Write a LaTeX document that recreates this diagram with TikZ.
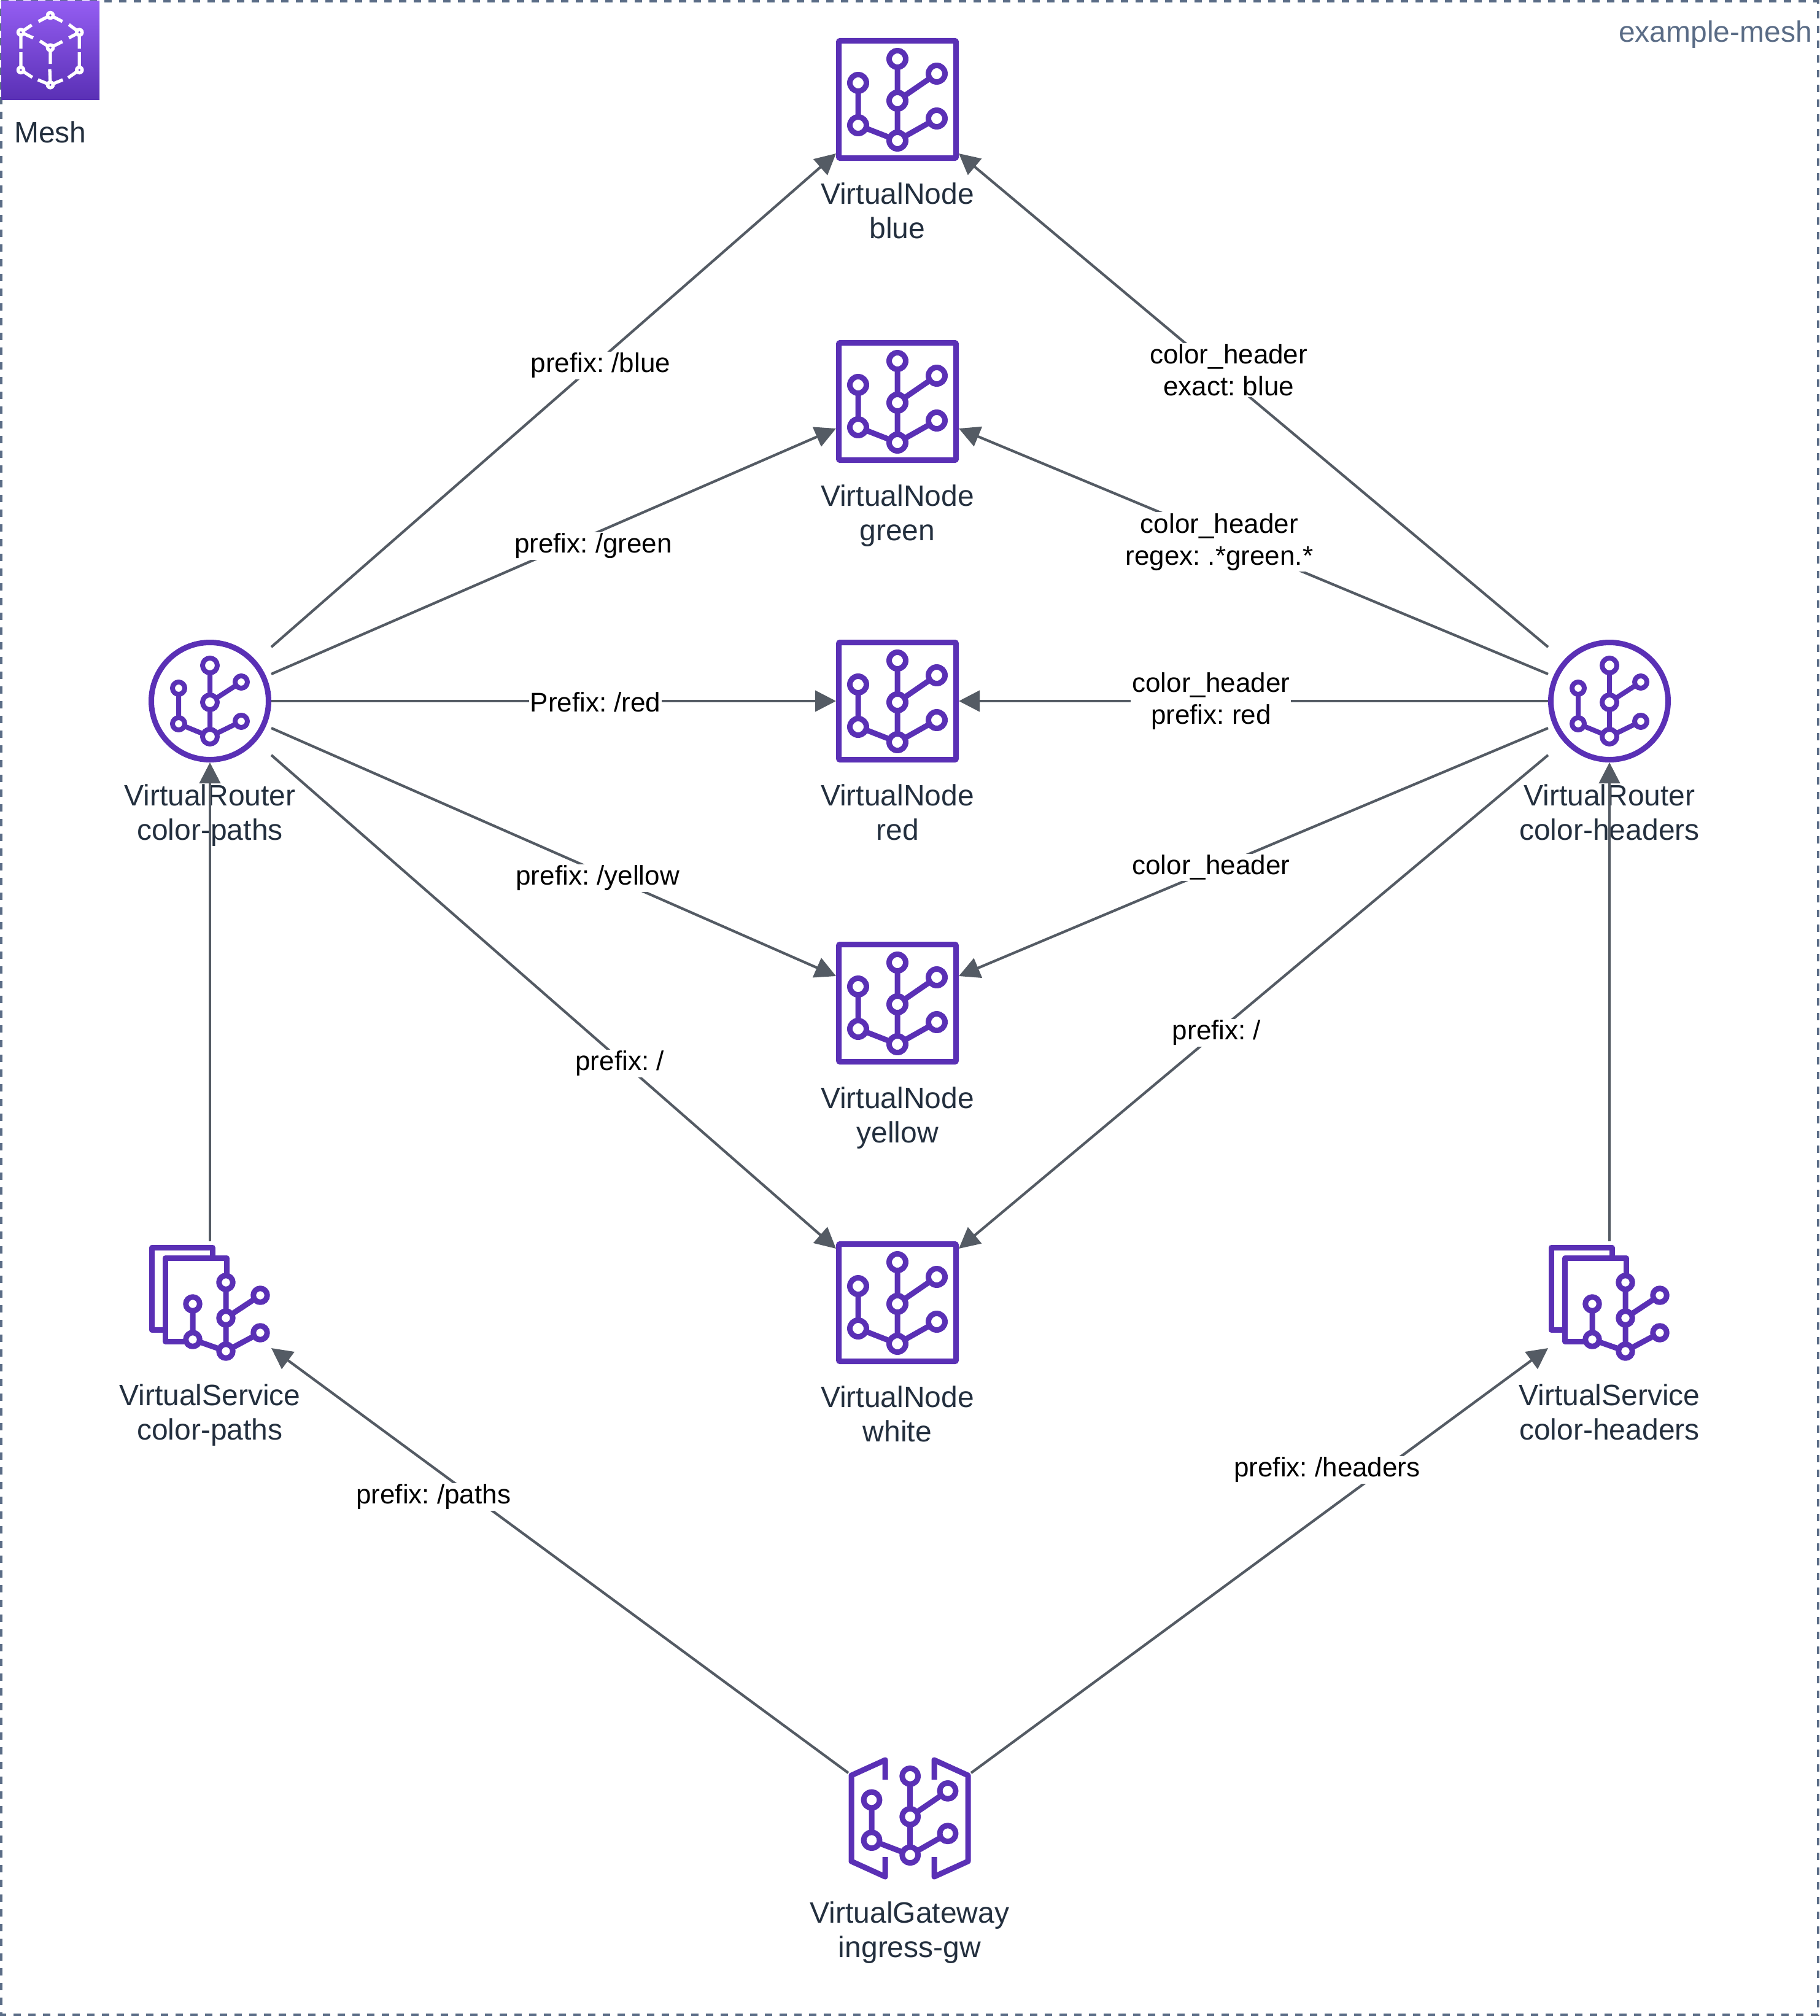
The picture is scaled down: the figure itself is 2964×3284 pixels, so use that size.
\documentclass[tikz,border=0pt]{standalone}
\usepackage{fontspec}
\setmainfont{Liberation Sans}
\frenchspacing
\usetikzlibrary{arrows.meta}

\definecolor{meshpurple}{HTML}{5A30B5}
\definecolor{meshlight}{HTML}{945DF2}
\definecolor{meshdot}{HTML}{7845D3}
\definecolor{meshgrey}{HTML}{545B64}
\definecolor{meshtext}{HTML}{232F3E}
\definecolor{meshborder}{HTML}{5A6C86}

% the tree that sits in every icon: needs coordinates t,m,b,lt,lb,rt,rb
\newcommand{\treebody}[3]{
    \draw [treeline, line width=#3] (t) -- (b) -- (lb) -- (lt) (m) -- (rt) (b) -- (rb);
    \foreach \c in {t,m,b} \draw [treeline, fill=white, line width=#3] (\c) circle (#1);
    \foreach \c in {lt,lb,rt,rb} \draw [treeline, fill=white, line width=#3] (\c) circle (#2);
}

\tikzset{
    treeline/.style = {draw=meshpurple, line join=round},
    cubeline/.style = {draw=white, line width=5.3pt},
    pics/nodetree/.style = {code = {
            \coordinate (t) at (0,-66); \coordinate (m) at (0,2); \coordinate (b) at (0,67);
            \coordinate (lt) at (-64,-27); \coordinate (lb) at (-64,42);
            \coordinate (rt) at (64,-42); \coordinate (rb) at (64,31);
            \treebody{13.5pt}{13.5pt}{9pt}
        }},
    pics/routertree/.style = {code = {
            \coordinate (t) at (0,-58); \coordinate (m) at (0,2); \coordinate (b) at (0,58);
            \coordinate (lt) at (-51,-21); \coordinate (lb) at (-51,37);
            \coordinate (rt) at (51,-31); \coordinate (rb) at (51,33);
            \treebody{12pt}{10pt}{8pt}
        }},
    pics/servicetree/.style = {code = {
            \draw [treeline, line width=9pt] (-72.5,44.7) -- (-95,44.7) -- (-95,-90) -- (4,-90) -- (4,-72.5);
            \draw [treeline, line width=9pt] (27,-33) -- (27,-72.5) -- (-72.5,-72.5) -- (-72.5,63) -- (-28,63);
            \coordinate (t) at (26,-33); \coordinate (m) at (26,25); \coordinate (b) at (26,79);
            \coordinate (lt) at (-28,2); \coordinate (lb) at (-28,60);
            \coordinate (rt) at (82,-12); \coordinate (rb) at (82,49);
            \treebody{11.3pt}{11.3pt}{9pt}
        }},
    pics/gatewaytree/.style = {code = {
            \draw [treeline, line width=9pt] (-40,-63) -- (-40,-95) -- (-95,-70) -- (-95,70) -- (-40,95) -- (-40,63);
            \draw [treeline, line width=9pt] (40,-63) -- (40,-95) -- (95,-70) -- (95,70) -- (40,95) -- (40,63);
            \coordinate (t) at (0.7,-68.7); \coordinate (m) at (0.7,-2.7); \coordinate (b) at (0.7,59.7);
            \coordinate (lt) at (-62,-30); \coordinate (lb) at (-62,35.7);
            \coordinate (rt) at (62,-44.7); \coordinate (rb) at (62,24.7);
            \treebody{13pt}{13pt}{9pt}
        }},
    pics/cube/.style = {code = {
            \draw [cubeline] (-19.3,-47) -- (0,-57) -- (19.7,-47);
            \draw [cubeline] (-30.3,-41.3) -- (-48,-29.3) -- (-28,-20.3) (-48,-29.3) -- (-48,-2.7);
            \draw [cubeline] (30.3,-42) -- (47.3,-29.3) -- (30.3,-20.3) (47.3,-29.3) -- (47.3,-2.7);
            \draw [cubeline] (-17,-15.3) -- (0,-4.3) -- (19.7,-14.3) (0,-4.3) -- (0,22);
            \draw [cubeline] (-48,3) -- (-48,32) -- (-29.3,44);
            \draw [cubeline] (47.3,3) -- (47.3,32) -- (29,44.7);
            \draw [cubeline] (-20.3,48) -- (0,56.3) -- (20.3,48) (0,56.3) -- (-1,30.7);
            \foreach \p in {(0,-57),(-48,-29.3),(47.3,-29.3),(0,-4.3),(-48,32),(47.3,32),(0,56.3)} {
                \fill [white] \p circle (7.3pt);
                \fill [meshdot] \p circle (1.8pt);
            }
        }}
}

\begin{document}
\begin{tikzpicture}[x=1pt, y=-1pt, node distance=490pt, label distance=36pt,
        % styles
        iconlabel/.style = {
                align=center, inner sep=0pt, text=meshtext,
                font=\fontsize{48}{56}\selectfont
            },
        vnode/.style = {
                rectangle, rounded corners=2pt, draw=meshpurple, line width=9pt,
                minimum size=191pt, inner sep=0pt
            },
        vrouter/.style = {
                circle, draw=meshpurple, line width=9pt,
                minimum size=191pt, inner sep=0pt
            },
        plainicon/.style = {
                rectangle, minimum size=200pt, inner sep=0pt, outer sep=0pt
            },
        arrow/.style = {
                draw=meshgrey, line width=4.2pt, -{Triangle[length=34pt,width=34pt]}
            },
        edgelabel/.style = {
                fill=white, align=center, inner sep=2pt, text=black,
                font=\fontsize{44}{52}\selectfont
            }]

    \useasboundingbox (0,0) rectangle (2964,3284);

    % mesh frame
    \draw [meshborder, line width=4.2pt, dash pattern=on 12pt off 12pt]
        (2,2) -- (2962,2) -- (2962,3282) -- (2,3282) -- cycle;
    \node (mesh_name) [anchor=east, inner sep=0pt, text=meshborder,
        font=\fontsize{48}{56}\selectfont] at (2952,56) {example-mesh};
    \node (mesh) [rectangle, minimum size=160pt, inner sep=0pt, outer sep=0pt,
        top color=meshlight, bottom color=meshpurple,
        label={[iconlabel]below:Mesh}] at (82,82) {};
    \pic at (mesh) {cube};

    % virtual nodes
    \node (node_blue) [vnode, label={[iconlabel]below:VirtualNode\\blue}] at (1462,162) {};
    \node (node_green) [vnode, below of=node_blue, yshift=-2pt, label={[iconlabel]below:VirtualNode\\green}] {};
    \node (node_red) [vnode, below of=node_green, yshift=2pt, label={[iconlabel]below:VirtualNode\\red}] {};
    \node (node_yellow) [vnode, below of=node_red, yshift=-2pt, label={[iconlabel]below:VirtualNode\\yellow}] {};
    \node (node_white) [vnode, below of=node_yellow, yshift=2pt, label={[iconlabel, yshift=1pt]below:VirtualNode\\white}] {};
    \foreach \n in {blue,green,red,yellow,white} \pic at (node_\n) {nodetree};

    % routers, services, gateway
    \node (router_paths) [vrouter, left of=node_red, node distance=1120pt,
        label={[iconlabel]below:VirtualRouter\\color-paths}] {};
    \node (router_headers) [vrouter, right of=node_red, node distance=1160pt,
        label={[iconlabel]below:VirtualRouter\\color-headers}] {};
    \node (service_paths) [plainicon, below of=router_paths, node distance=980pt,
        label={[iconlabel, yshift=4pt]below:VirtualService\\color-paths}] {};
    \node (service_headers) [plainicon, below of=router_headers, node distance=980pt,
        label={[iconlabel, yshift=4pt]below:VirtualService\\color-headers}] {};
    \node (gateway) [plainicon, label={[iconlabel, yshift=1pt]below:VirtualGateway\\ingress-gw}] at (1482,2962) {};
    \pic at (router_paths) {routertree};
    \pic at (router_headers) {routertree};
    \pic at (service_paths) {servicetree};
    \pic at (service_headers) {servicetree};
    \pic at (gateway) {gatewaytree};

    % arrows
    \draw [arrow] ([yshift=88pt]router_paths.east) -- node[edgelabel, pos=.583, yshift=-10pt] {prefix: /blue} ([yshift=-88pt]node_blue.west);
    \draw [arrow] ([yshift=44pt]router_paths.east) -- node[edgelabel, pos=.57, yshift=-19pt] {prefix: /green} ([yshift=-44pt]node_green.west);
    \draw [arrow] (router_paths.east) -- node[edgelabel, pos=.574, yshift=-2pt] {Prefix: /red} (node_red.west);
    \draw [arrow] ([yshift=-44pt]router_paths.east) -- node[edgelabel, pos=.578, yshift=-11pt] {prefix: /yellow} ([yshift=44pt]node_yellow.west);
    \draw [arrow] ([yshift=-88pt]router_paths.east) -- node[edgelabel, pos=.617, yshift=-6pt] {prefix: /} ([yshift=88pt]node_white.west);

    \draw [arrow] ([yshift=88pt]router_headers.west) -- node[edgelabel, pos=.542, yshift=15pt] {color\_header\\exact: blue} ([yshift=-88pt]node_blue.east);
    \draw [arrow] ([yshift=44pt]router_headers.west) -- node[edgelabel, pos=.558, yshift=-8pt] {color\_header\\regex: .*green.*} ([yshift=-44pt]node_green.east);
    \draw [arrow] (router_headers.west) -- node[edgelabel, pos=.572] {color\_header\\prefix: red} (node_red.east);
    \draw [arrow] ([yshift=-44pt]router_headers.west) -- node[edgelabel, pos=.572, yshift=4pt] {color\_header} ([yshift=44pt]node_yellow.east);
    \draw [arrow] ([yshift=-88pt]router_headers.west) -- node[edgelabel, pos=.5625, yshift=0pt] {prefix: /} ([yshift=88pt]node_white.east);

    \draw [arrow] (service_paths.north) -- (router_paths.south);
    \draw [arrow] (service_headers.north) -- (router_headers.south);

    \draw [arrow] ([yshift=74pt]gateway.west) -- node[edgelabel, pos=.719, yshift=-48pt] {prefix: /paths} ([yshift=-74pt]service_paths.east);
    \draw [arrow] ([yshift=74pt]gateway.east) -- node[edgelabel, pos=.617, yshift=67pt] {prefix: /headers} ([yshift=-74pt]service_headers.west);
\end{tikzpicture}
\end{document}
